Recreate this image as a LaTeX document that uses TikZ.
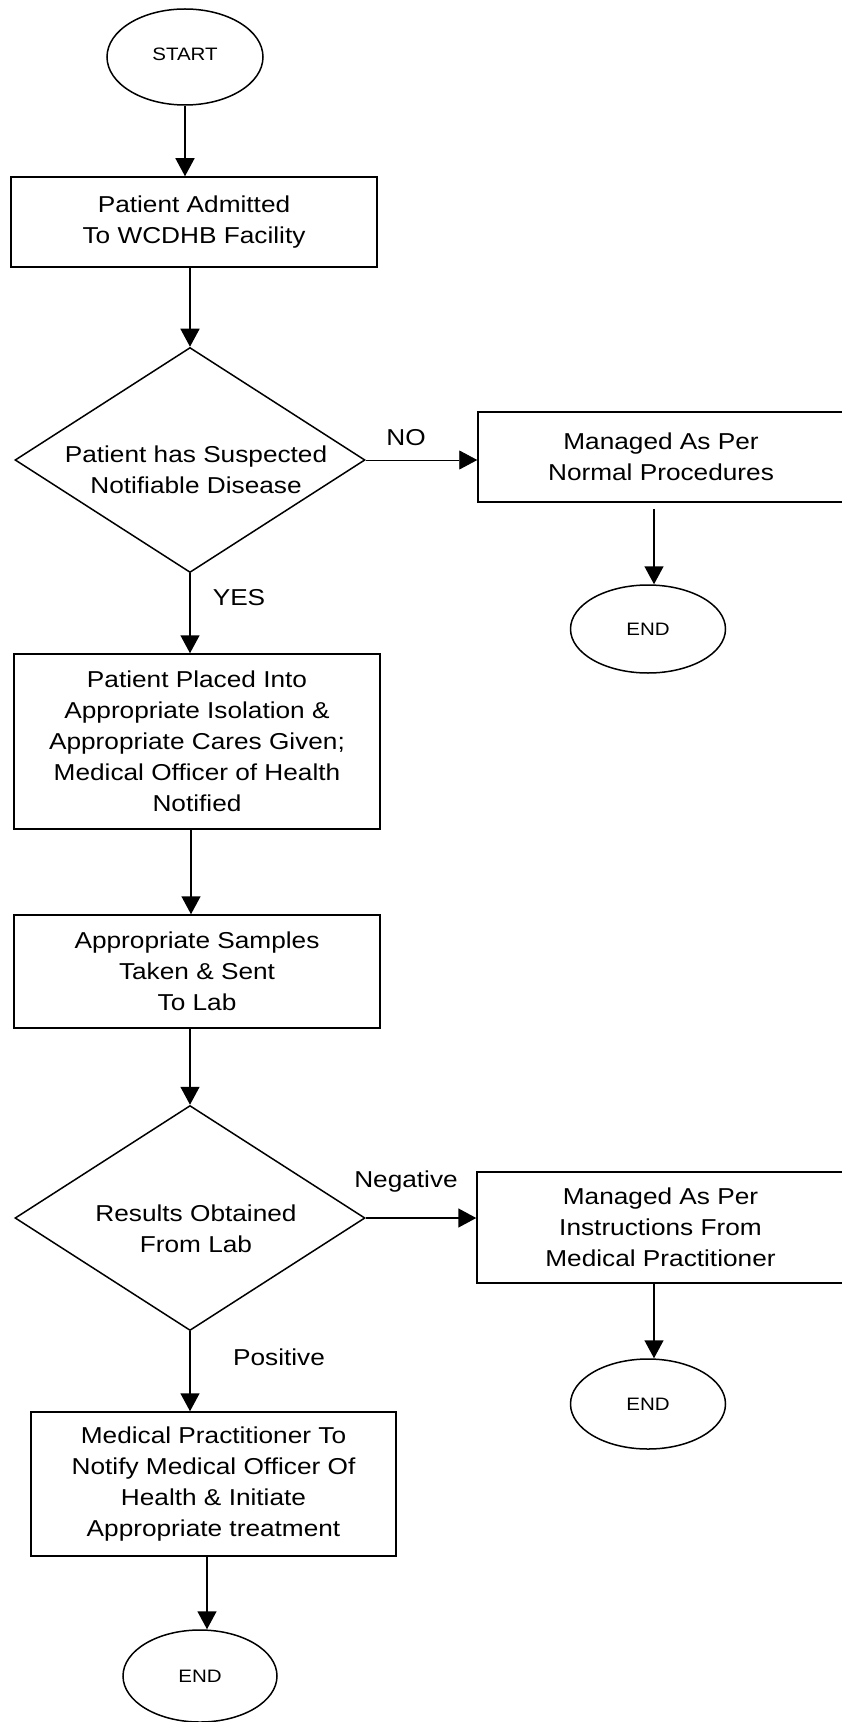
\documentclass[tikz,border=0pt]{standalone}
\usepackage{fontspec}
\setmainfont{Liberation Sans}[FakeStretch=1.14]
\usetikzlibrary{shapes.geometric,arrows.meta}
\begin{document}
\begin{tikzpicture}[x=0.5pt,y=-0.5pt,
  every node/.style={font=\fontsize{11.5}{15.5}\selectfont},
  procbox/.style={draw,line width=0.75pt,rectangle,align=center,inner sep=0pt},
  term/.style={draw,line width=0.75pt,ellipse,inner sep=0pt,font=\fontsize{9}{11}\selectfont},
  decision/.style={draw,line width=0.75pt,diamond,inner sep=0pt,minimum width=175pt,minimum height=112.5pt},
  arr/.style={line width=0.75pt,-{Triangle[length=9pt,width=9.5pt]}},
  thinarr/.style={line width=0.4pt,-{Triangle[length=9pt,width=9.5pt]}},
  lab/.style={inner sep=0pt}]
\useasboundingbox (0,0) rectangle (841,1722);
% terminals
\node[term,minimum width=78pt,minimum height=48pt] (start) at (185,57) {\raisebox{3pt}{START}};
\node[term,minimum width=77.5pt,minimum height=44pt] (e1) at (648,629) {END};
\node[term,minimum width=77.5pt,minimum height=45pt] (e2) at (648,1404) {END};
\node[term,minimum width=77pt,minimum height=46pt] (e3) at (200,1676) {END};
% boxes
\node[procbox,minimum width=183pt,minimum height=45pt] (b1) at (194,222) {Patient Admitted\\To WCDHB Facility};
\node[procbox,minimum width=183pt,minimum height=45pt] (b2) at (661,457) {Managed As Per\\Normal Procedures};
\node[procbox,minimum width=183pt,minimum height=87.5pt] (b3) at (197,741.5) {Patient Placed Into\\Appropriate Isolation \&\\Appropriate Cares Given;\\Medical Officer of Health\\Notified};
\node[procbox,minimum width=183pt,minimum height=56.5pt] (b4) at (197,971.5) {Appropriate Samples\\Taken \& Sent\\To Lab};
\node[procbox,minimum width=183.5pt,minimum height=55.5pt] (b5) at (660.5,1227.5) {Managed As Per\\Instructions From\\Medical Practitioner};
\node[procbox,minimum width=182.5pt,minimum height=72pt] (b6) at (213.5,1484) {Medical Practitioner To\\Notify Medical Officer Of\\Health \& Initiate\\Appropriate treatment};
% decisions
\node[decision,label={[align=center,xshift=3pt,yshift=-5pt]center:Patient has Suspected\\Notifiable Disease}] (d1) at (190,460) {};
\node[decision,label={[align=center,xshift=3pt,yshift=-5.5pt]center:Results Obtained\\From Lab}] (d2) at (190,1218) {};
% connector labels
\node[lab] (lno) at (406,438) {NO};
\node[lab] (lyes) at (239,598) {YES};
\node[lab] (lneg) at (406,1182) {Negative};
\node[lab] (lpos) at (279,1357) {Positive};
% connectors
\draw[arr] (start.south) -- (start.south |- b1.north);
\draw[arr] (d1.north |- b1.south) -- (d1.north);
\draw[thinarr] (d1.east) -- (d1.east -| b2.west);
\draw[arr] ([xshift=3pt]e1.north |- b2.south) ++(0,6) -- ([xshift=3pt]e1.north);
\draw[arr] (d1.south) -- (d1.south |- b3.north);
\draw[arr] ([xshift=-3pt]b3.south) -- ([xshift=-3pt]b4.north);
\draw[arr] (d2.north |- b4.south) -- (d2.north);
\draw[arr] (d2.east) -- (d2.east -| b5.west);
\draw[arr] ([xshift=3pt]e2.north |- b5.south) -- ([xshift=3pt]e2.north);
\draw[arr] (d2.south) -- (d2.south |- b6.north);
\draw[arr] ([xshift=-3.25pt]b6.south) -- ([xshift=-3.25pt]b6.south |- e3.north);
\end{tikzpicture}
\end{document}
